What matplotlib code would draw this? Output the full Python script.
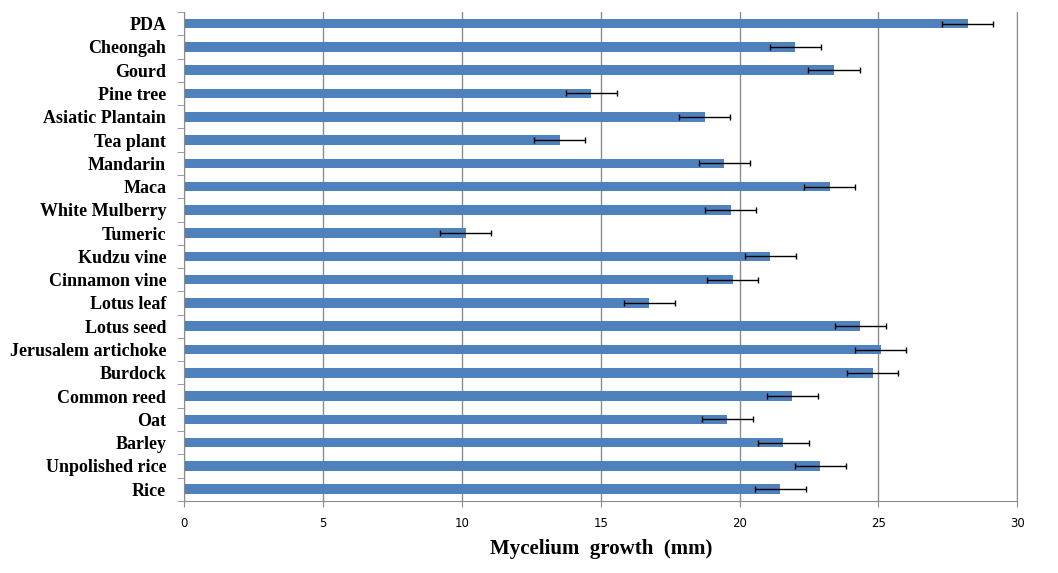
import numpy as np
import matplotlib
matplotlib.use('Agg')
import matplotlib.pyplot as plt

# media, listed from top to bottom as in the chart
media = ['PDA', 'Cheongah', 'Gourd', 'Pine tree', 'Asiatic Plantain', 'Tea plant',
         'Mandarin', 'Maca', 'White Mulberry', 'Tumeric', 'Kudzu vine', 'Cinnamon vine',
         'Lotus leaf', 'Lotus seed', 'Jerusalem artichoke', 'Burdock', 'Common reed',
         'Oat', 'Barley', 'Unpolished rice', 'Rice']
growth = [28.22, 22.0, 23.4, 14.65, 18.75, 13.52,
          19.45, 23.25, 19.68, 10.13, 21.1, 19.75,
          16.75, 24.35, 25.08, 24.8, 21.9,
          19.55, 21.57, 22.9, 21.47]
err = [0.92] * len(media)
xticks = [0, 5, 10, 15, 20, 25, 30]

fig = plt.figure(figsize=(10.58, 5.73), dpi=100)
ax = fig.add_axes([0.1742, 0.126, 0.9615 - 0.1742, 0.979 - 0.126])

y = np.arange(len(media))
ax.barh(y, growth, height=0.41, color='#4F81BD', zorder=2)
ax.errorbar(growth, y, xerr=err, fmt='none', ecolor='black', elinewidth=1,
            capsize=2.5, capthick=1, zorder=3)

ax.set_xlim(0, 30)
ax.set_ylim(len(media) - 0.5, -0.5)
ax.set_xticks(xticks)
ax.set_xticklabels([str(v) for v in xticks], fontsize=8.5, family='DejaVu Sans')
ax.xaxis.grid(True, color='#8c8c8c', linewidth=1, zorder=0)
ax.set_axisbelow(True)

ax.set_yticks(y)
ax.set_yticklabels(media, fontsize=13, fontweight='bold', family='Liberation Serif')
ax.set_yticks(np.arange(len(media) + 1) - 0.5, minor=True)
ax.tick_params(axis='y', which='major', length=0, pad=13)
ax.tick_params(axis='y', which='minor', length=5, color='#8c8c8c')
ax.tick_params(axis='x', length=4, color='#8c8c8c', pad=8)

ax.spines['top'].set_visible(False)
for s in ['left', 'bottom', 'right']:
    ax.spines[s].set_color('#8c8c8c')

ax.set_xlabel('Mycelium  growth  (mm)', fontsize=15, fontweight='bold',
              family='Liberation Serif', labelpad=6)

fig.savefig('out.png', dpi=100)
